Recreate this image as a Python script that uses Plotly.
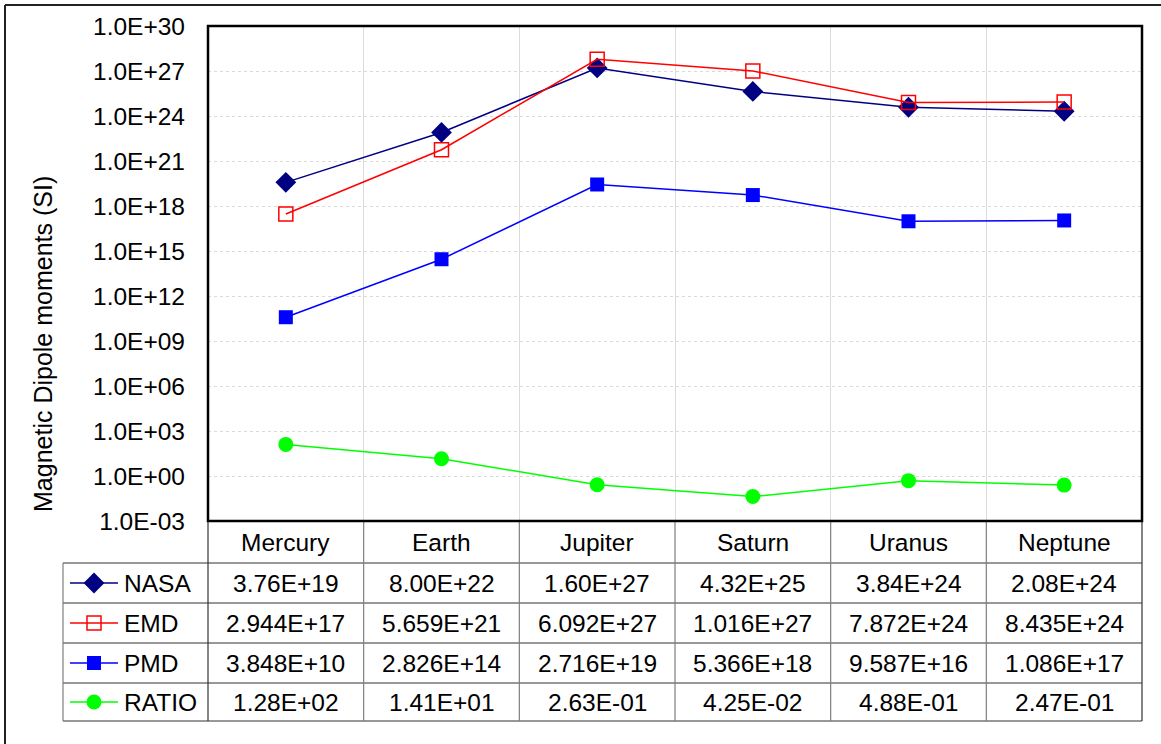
import plotly.graph_objects as go

planets = ["Mercury", "Earth", "Jupiter", "Saturn", "Uranus", "Neptune"]
nasa = [3.76e19, 8.00e22, 1.60e27, 4.32e25, 3.84e24, 2.08e24]
emd = [2.944e17, 5.659e21, 6.092e27, 1.016e27, 7.872e24, 8.435e24]
pmd = [3.848e10, 2.826e14, 2.716e19, 5.366e18, 9.587e16, 1.086e17]
ratio = [1.28e2, 1.41e1, 2.63e-1, 4.25e-2, 4.88e-1, 2.47e-1]

nasa_txt = ["3.76E+19", "8.00E+22", "1.60E+27", "4.32E+25", "3.84E+24", "2.08E+24"]
emd_txt = ["2.944E+17", "5.659E+21", "6.092E+27", "1.016E+27", "7.872E+24", "8.435E+24"]
pmd_txt = ["3.848E+10", "2.826E+14", "2.716E+19", "5.366E+18", "9.587E+16", "1.086E+17"]
ratio_txt = ["1.28E+02", "1.41E+01", "2.63E-01", "4.25E-02", "4.88E-01", "2.47E-01"]

ytick_exp = [-3, 0, 3, 6, 9, 12, 15, 18, 21, 24, 27, 30]
ytick_text = ["1.0E-03", "1.0E+00", "1.0E+03", "1.0E+06", "1.0E+09", "1.0E+12",
              "1.0E+15", "1.0E+18", "1.0E+21", "1.0E+24", "1.0E+27", "1.0E+30"]

W, H = 1161, 744
FONT = "Liberation Sans, Arial, sans-serif"
FS = 24.5

def px(x):
    return x / W

def py(y):
    return 1 - y / H

PL, PR, PT, PB = 208, 1142, 26, 521
TL = 63
row_edges = [563, 603, 643, 683, 721]

series = [
    ("NASA", nasa, nasa_txt, dict(symbol="diamond", size=16, color="#000080"), "#000080"),
    ("EMD", emd, emd_txt, dict(symbol="square-open", size=14, color="#FF0000", line=dict(width=1.5, color="#FF0000")), "#FF0000"),
    ("PMD", pmd, pmd_txt, dict(symbol="square", size=14, color="#0000FF"), "#0000FF"),
    ("RATIO", ratio, ratio_txt, dict(symbol="circle", size=15, color="#00FF00"), "#00FF00"),
]

fig = go.Figure()
xs = list(range(len(planets)))
for name, vals, _, mk, col in series:
    fig.add_trace(go.Scatter(x=xs, y=vals, name=name, mode="lines+markers",
                             line=dict(color=col, width=1.5), marker=mk,
                             showlegend=False, xaxis="x", yaxis="y"))

# legend keys inside the data table (second axes system in pixel units)
for i, (name, vals, _, mk, col) in enumerate(series):
    yc = (row_edges[i] + row_edges[i + 1]) / 2
    fig.add_trace(go.Scatter(x=[7, 55], y=[yc, yc], mode="lines",
                             line=dict(color=col, width=1.5), showlegend=False,
                             hoverinfo="skip", xaxis="x2", yaxis="y2"))
    fig.add_trace(go.Scatter(x=[31], y=[yc], mode="markers", marker=mk,
                             showlegend=False, hoverinfo="skip", xaxis="x2", yaxis="y2"))

shapes = []
line_dark = dict(color="#333333", width=1.2)
line_grey = dict(color="#7f7f7f", width=1.2)
for ye in row_edges:
    shapes.append(dict(type="line", xref="paper", yref="paper", x0=px(TL), x1=px(PR),
                       y0=py(ye), y1=py(ye), line=line_dark))
shapes.append(dict(type="line", xref="paper", yref="paper", x0=px(TL), x1=px(TL),
                   y0=py(row_edges[0]), y1=py(row_edges[-1]), line=line_grey))
for k in range(len(planets) + 1):
    xv = PL + k * (PR - PL) / len(planets)
    shapes.append(dict(type="line", xref="paper", yref="paper", x0=px(xv), x1=px(xv),
                       y0=py(PB), y1=py(row_edges[-1]),
                       line=line_dark if k in (0, len(planets)) else line_grey))
shapes.append(dict(type="rect", xref="paper", yref="paper", x0=px(PL), x1=px(PR),
                   y0=py(PB), y1=py(PT), line=dict(color="#000000", width=2.5)))
shapes.append(dict(type="line", xref="paper", yref="paper", x0=px(5), x1=px(W + 5),
                   y0=py(5), y1=py(5), line=dict(color="#222222", width=2)))
shapes.append(dict(type="line", xref="paper", yref="paper", x0=px(5), x1=px(5),
                   y0=py(5), y1=py(H + 5), line=dict(color="#222222", width=2)))

annotations = []
for i, p in enumerate(planets):
    annotations.append(dict(x=i, y=py((PB + row_edges[0]) / 2), xref="x", yref="paper",
                            text=p, showarrow=False, font=dict(family=FONT, size=FS, color="#000"),
                            xanchor="center", yanchor="middle"))
for r, (name, vals, txts, mk, col) in enumerate(series):
    yc = py((row_edges[r] + row_edges[r + 1]) / 2)
    annotations.append(dict(x=px(122), y=yc, xref="paper", yref="paper", text=name,
                            showarrow=False, font=dict(family=FONT, size=FS, color="#000"),
                            xanchor="left", yanchor="middle"))
    for i, t in enumerate(txts):
        annotations.append(dict(x=i, y=yc, xref="x", yref="paper", text=t, showarrow=False,
                                font=dict(family=FONT, size=FS, color="#000"),
                                xanchor="center", yanchor="middle"))
annotations.append(dict(x=px(43), y=py(344), xref="paper", yref="paper",
                        text="Magnetic Dipole moments (SI)", textangle=-90, showarrow=False,
                        font=dict(family=FONT, size=25, color="#000"),
                        xanchor="center", yanchor="middle"))

fig.update_layout(
    width=W, height=H,
    margin=dict(l=0, r=0, t=0, b=0, autoexpand=False),
    paper_bgcolor="white", plot_bgcolor="white",
    font=dict(family=FONT, size=FS, color="#000"),
    xaxis=dict(domain=[px(PL), px(PR)], range=[-0.5, len(planets) - 0.5],
               tickvals=[k + 0.5 for k in range(len(planets) - 1)],
               showticklabels=False, ticks="", showgrid=True, automargin=False,
               gridcolor="#dcdcdc", gridwidth=1, zeroline=False, showline=False),
    yaxis=dict(domain=[py(PB), py(PT)], type="log", range=[-3, 30],
               tickvals=[10.0 ** e for e in ytick_exp], ticktext=ytick_text,
               ticks="", ticklabelstandoff=22, showgrid=True, gridcolor="#dadada", gridwidth=1,
               griddash="dot", zeroline=False, showline=False, automargin=False,
               tickfont=dict(family=FONT, size=FS, color="#000")),
    xaxis2=dict(domain=[px(TL), px(PL)], range=[0, PL - TL], visible=False,
                fixedrange=True, automargin=False),
    yaxis2=dict(domain=[py(row_edges[-1]), py(row_edges[0])],
                range=[row_edges[-1], row_edges[0]], visible=False,
                fixedrange=True, automargin=False),
    shapes=shapes,
    annotations=annotations,
)

fig.write_html("out.html", config={"displayModeBar": False},
               post_script="document.body.style.margin='0px';")
